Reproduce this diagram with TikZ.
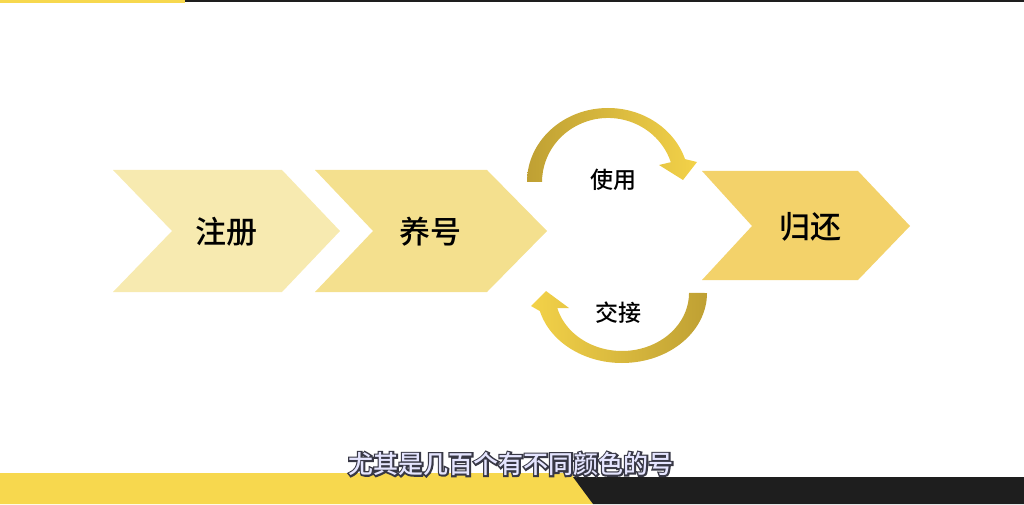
\documentclass[tikz,border=0pt]{standalone}
\usepackage{fontspec}
\newfontfamily\cjk{Noto Sans CJK SC}[BoldFont={Noto Sans CJK SC Medium}]
\definecolor{chevA}{HTML}{F7EAB0}
\definecolor{chevB}{HTML}{F4E08E}
\definecolor{chevC}{HTML}{F3D26A}
\definecolor{gold}{HTML}{BFA033}
\definecolor{sun}{HTML}{F3D249}
\definecolor{barY}{HTML}{F7D84E}
\definecolor{barK}{HTML}{1E1E1E}
\tikzset{
  step label/.style={font=\cjk\bfseries\fontsize{31}{31}\selectfont,inner sep=0pt},
  loop label/.style={font=\cjk\bfseries\fontsize{23}{23}\selectfont,inner sep=0pt},
  sub text/.style={font=\cjk\bfseries\fontsize{25}{25}\selectfont,inner sep=0pt,text=white!90!blue},
}
\newcommand{\outlined}[1]{\rlap{\special{pdf:literal direct 0.22 0.22 0.27 RG 2 Tr 3.2 w}#1\special{pdf:literal direct 0 Tr}}#1}
\begin{document}
\begin{tikzpicture}[x=1pt,y=1pt]
\useasboundingbox (0,0) rectangle (1024,504);
% top and bottom bars
\fill[barY] (0,504) rectangle (185,501);
\fill[barK] (185,504) rectangle (1024,502);
\fill[barY] (0,0) -- (0,31) -- (571,31) -- (593,0) -- cycle;
\fill[barK] (573,27) -- (1024,27) -- (1024,0) -- (593,0) -- cycle;
% chevrons
\fill[chevA] (113,334) -- (282,334) -- (340,273) -- (282,212) -- (113,212) -- (172,273) -- cycle;
\fill[chevB] (315,334) -- (487,334) -- (547,273) -- (487,212) -- (315,212) -- (373,273) -- cycle;
\fill[chevC] (702,333) -- (858,333) -- (910,278) -- (858,224) -- (702,224) -- (752,278) -- cycle;
\node[step label] (reg) at (226,272) {注册};
\node[step label] (raise) at (430,272) {养号};
\node[step label] (ret) at (810,277) {归还};
% loop arrows
\shade[left color=gold,middle color=sun!45!white,right color=sun]
  (527,322) arc[start angle=180,end angle=18,x radius=81,y radius=74]
  -- (697,342) -- (683,324) -- (659,339) -- (670.8,341.8)
  arc[start angle=18,end angle=180,x radius=66,y radius=64] -- cycle;
\shade[left color=sun,middle color=sun!45!white,right color=gold]
  (707,211) arc[start angle=360,end angle=195,x radius=85,y radius=70]
  -- (531,198) -- (546,213) -- (569,196) -- (557.3,196)
  arc[start angle=195,end angle=360,x radius=67,y radius=58] -- cycle;
\node[loop label] (use) at (613,324) {使用};
\node[loop label] (swap) at (618,191) {交接};
% subtitle
\node[sub text] (sub) at (511,40) {\outlined{尤其是几百个有不同颜色的号}};
\end{tikzpicture}
\end{document}
